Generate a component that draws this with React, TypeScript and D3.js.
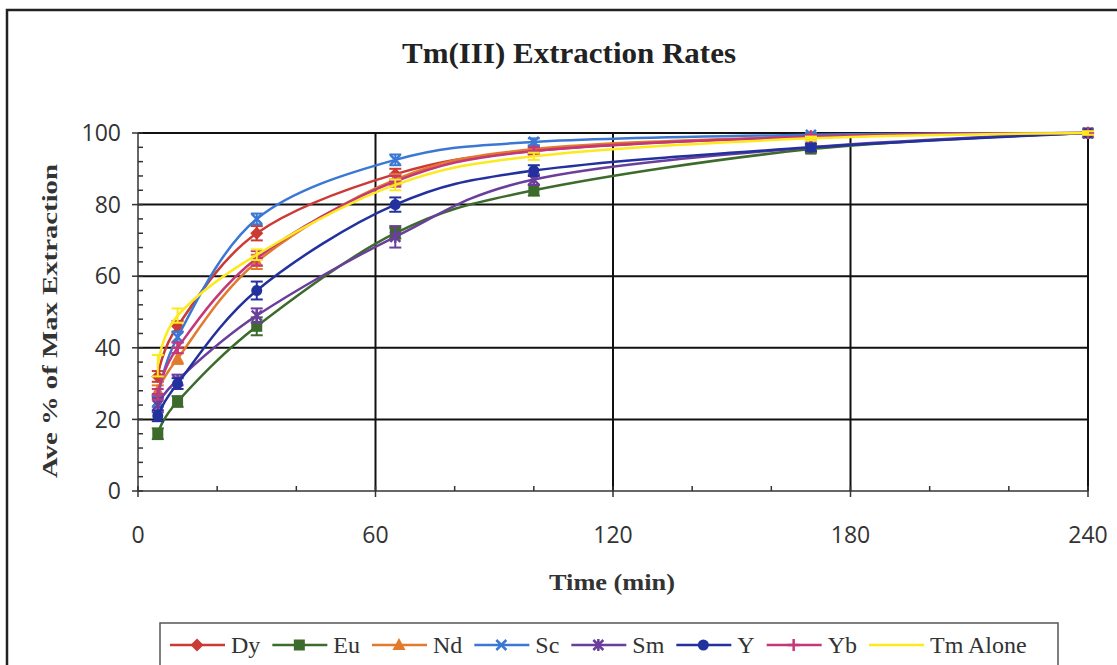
import React, { useMemo } from "react";
import * as d3 from "d3";

// time points (min)
const times = [5, 10, 30, 65, 100, 170, 240];

// average % of max extraction, one array per competing ion
const dyVals = [32, 46, 72, 88.5, 95, 99, 100];
const euVals = [16, 25, 46, 72, 84, 95.5, 100];
const ndVals = [28, 37, 64, 87, 95.5, 99, 100];
const scVals = [25, 43, 76, 92.5, 97.5, 99.5, 100];
const smVals = [24, 31, 49, 71, 87, 96, 100];
const yVals = [21, 30, 56, 80, 89.5, 96, 100];
const ybVals = [27, 40, 65, 86.5, 95, 99, 100];
const tmVals = [35, 49, 66, 85.5, 93.5, 98.5, 100];

// error bar half-widths
const dyErr = [1.5, 1.5, 2, 1.5, 1, 0.5, 0.5];
const euErr = [1.5, 1.5, 2.5, 1.5, 1.5, 1, 0.5];
const ndErr = [1.5, 1.5, 2, 1.5, 1, 0.5, 0.5];
const scErr = [1.5, 1.5, 1.5, 1.5, 1, 0.5, 0.5];
const smErr = [2, 1.5, 2, 3, 1.5, 1, 0.5];
const yErr = [1.5, 1.5, 2.5, 2, 1.5, 1, 0.5];
const ybErr = [1.5, 1.5, 2, 1.5, 1, 0.5, 0.5];
const tmErr = [3, 2, 1.5, 1.5, 1, 0.5, 0.5];

const names = ["Dy", "Eu", "Nd", "Sc", "Sm", "Y", "Yb", "Tm Alone"];

const xTicks = [0, 60, 120, 180, 240];
const yTicks = [0, 20, 40, 60, 80, 100];

const W = 1117;
const H = 665;

const colors: Record<string, string> = {
  Dy: "#cc3a35",
  Eu: "#3d6b2c",
  Nd: "#e27a2c",
  Sc: "#3a78d4",
  Sm: "#6a3f9c",
  Y: "#23319e",
  Yb: "#c4387a",
  "Tm Alone": "#fbea1e",
};

const shapes: Record<string, string> = {
  Dy: "diamond",
  Eu: "square",
  Nd: "triangle",
  Sc: "x",
  Sm: "asterisk",
  Y: "circle",
  Yb: "plus",
  "Tm Alone": "none",
};

function Marker({ shape, cx, cy, color }: { shape: string; cx: number; cy: number; color: string }) {
  const s = 6.5;
  switch (shape) {
    case "diamond":
      return <path d={`M${cx},${cy - s}L${cx + s},${cy}L${cx},${cy + s}L${cx - s},${cy}Z`} fill={color} />;
    case "square":
      return <rect x={cx - 5.5} y={cy - 5.5} width={11} height={11} fill={color} />;
    case "triangle":
      return <path d={`M${cx},${cy - 7}L${cx + 6.5},${cy + 5}L${cx - 6.5},${cy + 5}Z`} fill={color} />;
    case "x":
      return (
        <path d={`M${cx - 5},${cy - 5}L${cx + 5},${cy + 5}M${cx - 5},${cy + 5}L${cx + 5},${cy - 5}`} stroke={color} strokeWidth={2.5} />
      );
    case "asterisk":
      return (
        <path
          d={`M${cx - 5},${cy - 5}L${cx + 5},${cy + 5}M${cx - 5},${cy + 5}L${cx + 5},${cy - 5}M${cx},${cy - 6}L${cx},${cy + 6}`}
          stroke={color}
          strokeWidth={2.5}
        />
      );
    case "circle":
      return <circle cx={cx} cy={cy} r={5.5} fill={color} />;
    case "plus":
      return <path d={`M${cx - 6},${cy}L${cx + 6},${cy}M${cx},${cy - 6}L${cx},${cy + 6}`} stroke={color} strokeWidth={2.5} />;
    default:
      return null;
  }
}

export default function App() {
  const series = [
    { name: "Dy", vals: dyVals, err: dyErr },
    { name: "Eu", vals: euVals, err: euErr },
    { name: "Nd", vals: ndVals, err: ndErr },
    { name: "Sc", vals: scVals, err: scErr },
    { name: "Sm", vals: smVals, err: smErr },
    { name: "Y", vals: yVals, err: yErr },
    { name: "Yb", vals: ybVals, err: ybErr },
    { name: "Tm Alone", vals: tmVals, err: tmErr },
  ];

  const x = d3.scaleLinear().domain([0, 240]).range([138, 1088]);
  const y = d3.scaleLinear().domain([0, 100]).range([491, 133]);

  const line = d3
    .line<[number, number]>()
    .x((d) => x(d[0]))
    .y((d) => y(d[1]))
    .curve(d3.curveCardinal.tension(0));

  // legend layout from text widths
  const legendItems = useMemo(() => {
    const canvas = document.createElement("canvas");
    const ctx = canvas.getContext("2d")!;
    ctx.font = "24px 'Liberation Serif'";
    let cx = 170;
    return names.map((n) => {
      const item = { name: n, x: cx };
      cx += 55 + 6 + ctx.measureText(n).width + 12;
      return item;
    });
  }, []);

  const minorX = d3.range(0, 241, 20);
  const minorY = d3.range(0, 101, 4);

  return (
    <svg width={W} height={H} style={{ position: "absolute", left: 0, top: 0, background: "#fff" }}>
      <rect x={0} y={0} width={W} height={H} fill="#fff" />
      {/* outer chart frame */}
      <rect x={7} y={10} width={W + 20} height={H + 20} fill="none" stroke="#222" strokeWidth={2.5} />

      <text x={569} y={63} textAnchor="middle" fontFamily="'Liberation Serif', serif" fontWeight="bold" fontSize={30} fill="#222" textLength={334} lengthAdjust="spacingAndGlyphs">
        Tm(III) Extraction Rates
      </text>

      {/* gridlines */}
      <g stroke="#111" strokeWidth={2}>
        {yTicks.slice(1).map((t) => (
          <line key={"gy" + t} x1={x(0)} x2={x(240)} y1={y(t)} y2={y(t)} />
        ))}
        {xTicks.slice(1).map((t) => (
          <line key={"gx" + t} x1={x(t)} x2={x(t)} y1={y(0)} y2={y(100)} />
        ))}
      </g>

      {/* axes */}
      <g stroke="#333" strokeWidth={1.5}>
        <line x1={x(0)} x2={x(0)} y1={y(0)} y2={y(100)} />
        <line x1={x(0)} x2={x(240)} y1={y(0)} y2={y(0)} />
        {yTicks.map((t) => (
          <line key={"ty" + t} x1={x(0) - 6} x2={x(0)} y1={y(t)} y2={y(t)} />
        ))}
        {minorY.map((t) => (
          <line key={"my" + t} x1={x(0)} x2={x(0) + 5} y1={y(t)} y2={y(t)} />
        ))}
        {xTicks.map((t) => (
          <line key={"tx" + t} x1={x(t)} x2={x(t)} y1={y(0)} y2={y(0) + 6} />
        ))}
        {minorX.map((t) => (
          <line key={"mx" + t} x1={x(t)} x2={x(t)} y1={y(0)} y2={y(0) - 5} />
        ))}
      </g>

      <g fontFamily="'Open Sans', sans-serif" fontSize={23} fill="#333">
        {yTicks.map((t) => (
          <text key={"ly" + t} x={x(0) - 17} y={y(t)} dy="0.36em" textAnchor="end">
            {t}
          </text>
        ))}
        {xTicks.map((t) => (
          <text key={"lx" + t} x={x(t)} y={y(0) + 44} dy="0.36em" textAnchor="middle">
            {t}
          </text>
        ))}
      </g>

      <text
        transform={`translate(57,${(133 + 491) / 2 + 9}) rotate(-90)`}
        textAnchor="middle"
        fontFamily="'Liberation Serif', serif"
        fontWeight="bold"
        fontSize={22}
        fill="#333"
        textLength={314}
        lengthAdjust="spacingAndGlyphs"
      >
        Ave % of Max Extraction
      </text>
      <text
        x={612}
        y={590}
        textAnchor="middle"
        fontFamily="'Liberation Serif', serif"
        fontWeight="bold"
        fontSize={23}
        fill="#333"
        textLength={126}
        lengthAdjust="spacingAndGlyphs"
      >
        Time (min)
      </text>

      {/* series */}
      {series.map((s) => {
        const pts = times.map((t, i) => [t, s.vals[i]] as [number, number]);
        const c = colors[s.name];
        return (
          <g key={s.name}>
            <path d={line(pts) || ""} fill="none" stroke={c} strokeWidth={2.5} />
            {times.map((t, i) => {
              const px = x(t);
              const top = y(s.vals[i] + s.err[i]);
              const bot = y(s.vals[i] - s.err[i]);
              return (
                <g key={i} stroke={c} strokeWidth={2}>
                  <line x1={px} x2={px} y1={top} y2={bot} />
                  <line x1={px - 6} x2={px + 6} y1={top} y2={top} />
                  <line x1={px - 6} x2={px + 6} y1={bot} y2={bot} />
                </g>
              );
            })}
            {times.map((t, i) => (
              <Marker key={"m" + i} shape={shapes[s.name]} cx={x(t)} cy={y(s.vals[i])} color={c} />
            ))}
          </g>
        );
      })}

      {/* legend */}
      <rect x={160} y={623} width={898} height={60} fill="#fff" stroke="#555" strokeWidth={1.5} />
      {legendItems.map((it) => {
        const c = colors[it.name];
        return (
          <g key={it.name}>
            <line x1={it.x} x2={it.x + 55} y1={645} y2={645} stroke={c} strokeWidth={2.5} />
            <Marker shape={shapes[it.name]} cx={it.x + 27} cy={645} color={c} />
            <text x={it.x + 61} y={645} dy="0.35em" fontFamily="'Liberation Serif', serif" fontSize={24} fill="#333">
              {it.name}
            </text>
          </g>
        );
      })}
    </svg>
  );
}
